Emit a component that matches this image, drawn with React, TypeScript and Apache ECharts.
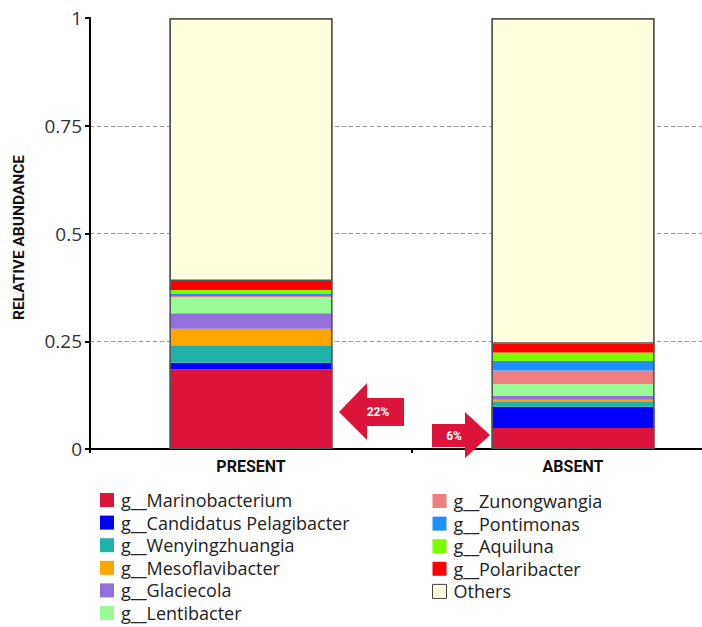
import React, { useEffect, useRef } from "react";
import * as echarts from "echarts";

const categories = ["PRESENT", "ABSENT"];
const genera = [
  "g__Marinobacterium",
  "g__Candidatus Pelagibacter",
  "g__Wenyingzhuangia",
  "g__Mesoflavibacter",
  "g__Glaciecola",
  "g__Lentibacter",
  "g__Zunongwangia",
  "g__Pontimonas",
  "g__Aquiluna",
  "g__Polaribacter",
  "Others",
];
const colors = [
  "#DC143C",
  "#0000FF",
  "#20B2AA",
  "#FFA500",
  "#9370DB",
  "#98FB98",
  "#F08080",
  "#1E90FF",
  "#7CFC00",
  "#FF0000",
  "#FFFFE0",
];
const marinobacterium = [0.185, 0.049];
const pelagibacter = [0.015, 0.049];
const wenyingzhuangia = [0.041, 0.013];
const mesoflavibacter = [0.038, 0.003];
const glaciecola = [0.036, 0.009];
const lentibacter = [0.037, 0.028];
const zunongwangia = [0.003, 0.031];
const pontimonas = [0.006, 0.022];
const aquiluna = [0.008, 0.02];
const polaribacter = [0.021, 0.02];
const others = [0.61, 0.756];
const values = [
  marinobacterium,
  pelagibacter,
  wenyingzhuangia,
  mesoflavibacter,
  glaciecola,
  lentibacter,
  zunongwangia,
  pontimonas,
  aquiluna,
  polaribacter,
  others,
];
const totals = [1, 1];
const yTicks = [0, 0.25, 0.5, 0.75, 1];
const arrowLabels = ["22%", "6%"];

export default function App() {
  const ref = useRef<HTMLDivElement>(null);
  useEffect(() => {
    if (!ref.current) return;
    const chart = echarts.init(ref.current, undefined, { renderer: "svg" });
    const BAR_W = 163;
    const series: any[] = genera.map((name, i) => ({
      name,
      type: "bar",
      stack: "abund",
      barWidth: BAR_W,
      barGap: "-100%",
      data: values[i],
      itemStyle: {
        color: colors[i],
        borderWidth: i === genera.length - 1 ? 1.5 : 0,
        borderColor: "#555",
      },
      emphasis: { disabled: true },
    }));
    series.push({
      name: "frame",
      type: "bar",
      barWidth: BAR_W,
      barGap: "-100%",
      data: totals,
      z: 5,
      silent: true,
      itemStyle: { color: "transparent", borderColor: "#555", borderWidth: 1.5 },
    });
    const legendText = {
      fontFamily: "Open Sans",
      fontSize: 18,
      lineHeight: 18,
      color: "#222",
      padding: [0, 0, 0, 2],
    };
    const legendItem = (n: string) =>
      n === "Others"
        ? { name: n, itemStyle: { borderColor: "#444", borderWidth: 1 } }
        : { name: n };
    const legendBase = {
      orient: "vertical",
      itemWidth: 14,
      itemHeight: 14,
      itemGap: 4.6,
      icon: "rect",
      textStyle: legendText,
      selectedMode: false,
      height: 160,
    };
    chart.setOption({
      animation: false,
      backgroundColor: "#fff",
      grid: { left: 90, top: 18, bottom: 178, width: 644, outerBoundsMode: "none" },
      legend: [
        { ...legendBase, left: 95, top: 486, data: genera.slice(0, 6).map(legendItem) },
        { ...legendBase, left: 427, top: 487, data: genera.slice(6).map(legendItem) },
      ],
      xAxis: {
        type: "category",
        data: categories,
        axisLine: { lineStyle: { color: "#000", width: 2 } },
        axisTick: { show: true, length: 4, lineStyle: { color: "#000", width: 2 } },
        axisLabel: {
          fontFamily: "Roboto",
          fontWeight: "bold",
          fontSize: 16,
          color: "#111",
          margin: 9,
        },
      },
      yAxis: {
        type: "value",
        min: yTicks[0],
        max: yTicks[yTicks.length - 1],
        interval: 0.25,
        name: "RELATIVE ABUNDANCE",
        nameLocation: "middle",
        nameGap: 63,
        nameTextStyle: {
          fontFamily: "Roboto",
          fontWeight: "bold",
          fontSize: 15.5,
          color: "#111",
          padding: [0, 8, 0, 0],
        },
        axisLine: { show: true, lineStyle: { color: "#000", width: 2 } },
        axisTick: { show: true, length: 5, lineStyle: { color: "#000", width: 2 } },
        axisLabel: {
          fontFamily: "Open Sans",
          fontSize: 19,
          color: "#333",
          margin: 8,
        },
        splitLine: {
          show: true,
          showMinLine: false,
          showMaxLine: false,
          lineStyle: { color: "#999", type: [4, 3], width: 1 },
        },
      },
      series,
      graphic: [
        {
          type: "polygon",
          z: 100,
          shape: {
            points: [
              [339, 412],
              [367, 383],
              [367, 398],
              [404, 398],
              [404, 426],
              [367, 426],
              [367, 440],
            ],
          },
          style: { fill: "#DC143C" },
        },
        {
          type: "text",
          z: 101,
          x: 378,
          y: 412,
          style: {
            text: arrowLabels[0],
            fill: "#fff",
            font: "bold 12px Roboto",
            align: "center",
            verticalAlign: "middle",
          },
        },
        {
          type: "polygon",
          z: 100,
          shape: {
            points: [
              [432, 424],
              [465, 424],
              [465, 412],
              [490, 435],
              [465, 458],
              [465, 447],
              [432, 447],
            ],
          },
          style: { fill: "#DC143C" },
        },
        {
          type: "text",
          z: 101,
          x: 454,
          y: 436,
          style: {
            text: arrowLabels[1],
            fill: "#fff",
            font: "bold 12px Roboto",
            align: "center",
            verticalAlign: "middle",
          },
        },
      ],
    });
    return () => chart.dispose();
  }, []);
  return (
    <div
      ref={ref}
      style={{ position: "fixed", left: 0, top: 0, width: 702, height: 627 }}
    />
  );
}
